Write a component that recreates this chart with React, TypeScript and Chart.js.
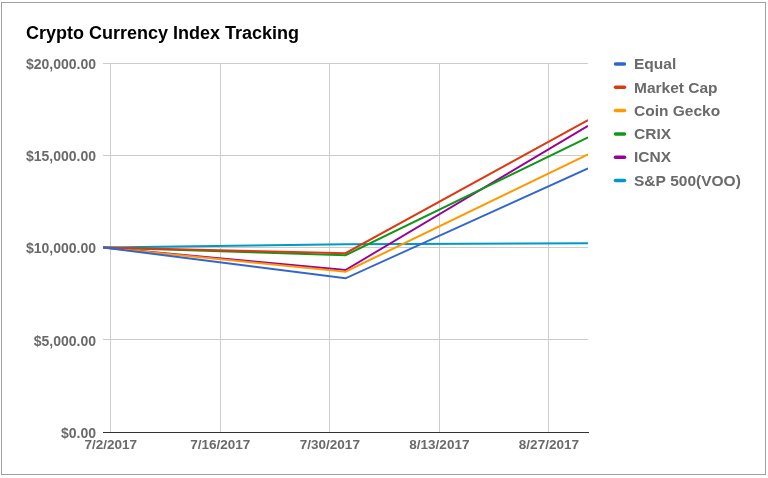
import React, { useEffect, useRef } from 'react';
import { Chart, registerables } from 'chart.js';

Chart.register(...registerables);

const chartTitle = 'Crypto Currency Index Tracking';
const dates = ['7/1/2017', '8/1/2017', '9/1/2017'];
const seriesNames = ['Equal', 'Market Cap', 'Coin Gecko', 'CRIX', 'ICNX', 'S&P 500(VOO)'];
const equal = [10000, 8330, 14290];
const marketCap = [10000, 9690, 16910];
const coinGecko = [10000, 8690, 15050];
const crix = [10000, 9580, 15970];
const icnx = [10000, 8780, 16590];
const sp500 = [10000, 10170, 10230];
const seriesColors = ['#3366cc', '#dc3912', '#ff9900', '#109618', '#990099', '#0099c6'];
const xTickLabels = ['7/2/2017', '7/16/2017', '7/30/2017', '8/13/2017', '8/27/2017'];
const yTickValues = [0, 5000, 10000, 15000, 20000];

const FONT = '"Liberation Sans", Arial, sans-serif';
const LABEL_COLOR = '#6a6a6a';

function dayOf(s: string): number {
  const [m, d, y] = s.split('/').map(Number);
  return Date.UTC(y, m - 1, d) / 86400000;
}
const baseDay = dayOf(xTickLabels[0]);
const xTickValues = xTickLabels.map((l) => dayOf(l) - baseDay);
const xValues = dates.map((l) => dayOf(l) - baseDay);

function money(v: number): string {
  const parts = v.toFixed(2).split('.');
  parts[0] = parts[0].replace(/\B(?=(\d{3})+(?!\d))/g, ',');
  return '$' + parts.join('.');
}

const frameAndLegend = {
  id: 'frameAndLegend',
  afterDraw(chart: any) {
    const ctx = chart.ctx;
    ctx.save();
    ctx.strokeStyle = '#a0a0a0';
    ctx.lineWidth = 1;
    ctx.strokeRect(1.5, 2.5, 764, 472);
    ctx.font = `bold 15.5px ${FONT}`;
    ctx.textBaseline = 'middle';
    ctx.textAlign = 'left';
    chart.data.datasets.forEach((ds: any, i: number) => {
      const y = 64 + i * 23.3;
      ctx.strokeStyle = ds.borderColor;
      ctx.lineWidth = 3.5;
      ctx.lineCap = 'round';
      ctx.beginPath();
      ctx.moveTo(615.5, y);
      ctx.lineTo(624.5, y);
      ctx.stroke();
      ctx.fillStyle = LABEL_COLOR;
      ctx.fillText(ds.label, 634, y + 1);
    });
    ctx.restore();
  },
};

export default function App() {
  const ref = useRef<HTMLCanvasElement | null>(null);
  useEffect(() => {
    if (!ref.current) return;
    const seriesData = [equal, marketCap, coinGecko, crix, icnx, sp500];
    const chart = new Chart(ref.current, {
      type: 'line',
      data: {
        datasets: seriesNames.map((name, i) => ({
          label: name,
          data: seriesData[i].map((v, j) => ({ x: xValues[j], y: v })),
          borderColor: seriesColors[i],
          backgroundColor: seriesColors[i],
          borderWidth: 2,
          pointRadius: 0,
          tension: 0,
          fill: false,
        })),
      },
      options: {
        responsive: false,
        animation: false,
        layout: { padding: { left: 26, right: 180, top: 0, bottom: 0 } },
        plugins: {
          legend: { display: false },
          tooltip: { enabled: false },
          title: {
            display: true,
            text: chartTitle,
            align: 'start',
            color: '#000',
            font: { family: FONT, size: 18, weight: 'bold', lineHeight: 1.2 },
            padding: { top: 23, bottom: 18.4 },
          },
        },
        scales: {
          x: {
            type: 'linear',
            min: xValues[0],
            max: xValues[xValues.length - 1],
            afterBuildTicks: (scale: any) => {
              scale.ticks = xTickValues.map((v) => ({ value: v }));
            },
            afterFit: (scale: any) => {
              scale.height = 46;
            },
            grid: { color: '#cccccc', drawTicks: false, lineWidth: 1 },
            border: { display: true, color: '#333333', width: 1 },
            ticks: {
              padding: 5,
              color: LABEL_COLOR,
              font: { family: FONT, size: 13.5, weight: 'bold' },
              maxRotation: 0,
              autoSkip: false,
              callback: (v: any) => {
                const idx = xTickValues.indexOf(Number(v));
                return idx >= 0 ? xTickLabels[idx] : '';
              },
            },
          },
          y: {
            min: yTickValues[0],
            max: yTickValues[yTickValues.length - 1],
            afterBuildTicks: (scale: any) => {
              scale.ticks = yTickValues.map((v) => ({ value: v }));
            },
            afterFit: (scale: any) => {
              scale.width = 77;
            },
            grid: { color: '#cccccc', drawTicks: false, lineWidth: 1 },
            border: { display: false },
            ticks: {
              padding: 7,
              labelOffset: 2,
              color: LABEL_COLOR,
              font: { family: FONT, size: 14, weight: 'bold' },
              callback: (v: any) => money(Number(v)),
            },
          },
        },
      },
      plugins: [frameAndLegend],
    } as any);
    return () => chart.destroy();
  }, []);
  return (
    <div style={{ position: 'absolute', left: 0, top: 0, width: 768, height: 478, background: '#fff' }}>
      <canvas ref={ref} width={768} height={478} style={{ display: 'block', width: 768, height: 478 }} />
    </div>
  );
}
